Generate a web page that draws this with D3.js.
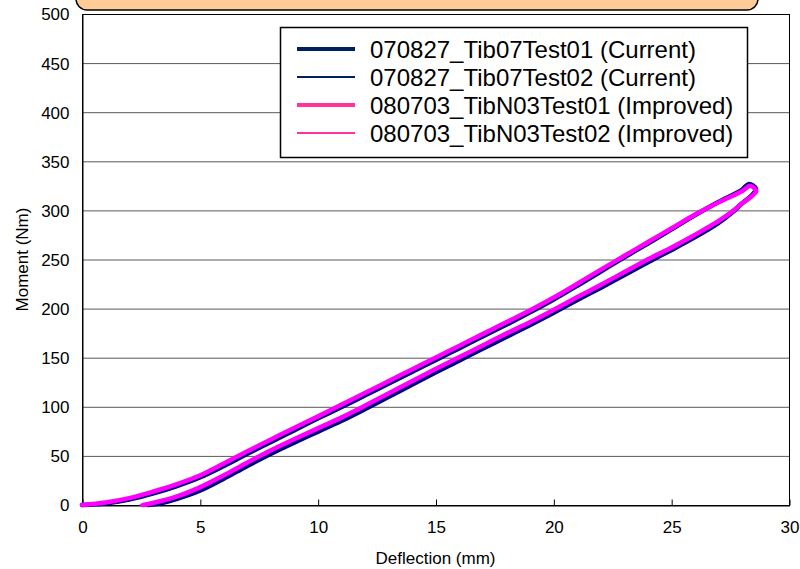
<!DOCTYPE html>
<html>
<head>
<meta charset="utf-8">
<script src="https://cdn.jsdelivr.net/npm/d3@7/dist/d3.min.js"></script>
<style>
  body { margin: 0; background: #fff; }
  svg { display: block; font-family: "Liberation Sans", Arial, sans-serif; }
  .chart__axis text { font-size: 17px; fill: #000; }
  .chart__axis path, .chart__axis line { stroke: #000; }
  .chart__grid line { stroke: #595959; }
  .chart__label { font-size: 17px; fill: #000; }
  .legend text { font-size: 24px; fill: #000; }
</style>
</head>
<body>
<div id="chart"></div>
<script>
// series names and styles
const seriesNames = [
  '070827_Tib07Test01 (Current)',
  '070827_Tib07Test02 (Current)',
  '080703_TibN03Test01 (Improved)',
  '080703_TibN03Test02 (Improved)',
];
const lineColors = ['#000080', '#000080', '#ff00ff', '#ff00ff'];
const legendColors = ['#002060', '#002060', '#ff3399', '#ff3399'];
const lineWidths = [4.5, 2.5, 4.5, 2.5];

// [deflection (mm), moment (Nm)] - loading then unloading
const tib07Test01 = [
  [0, 0], [1, 1.5], [2, 5.5], [3, 11.5], [4, 19], [5, 28], [6, 39.5], [7, 52], [8, 64], [9, 76],
  [10, 88], [11, 99.5], [12, 111.5], [13, 123.5], [14, 135.5], [15, 147.5], [16, 159.5],
  [17, 171.5], [18, 183.5], [19, 196], [20, 209], [21, 223], [22, 237.5], [23, 252], [24, 266],
  [25, 280.5], [26, 295], [27, 308.5], [28, 321], [28.3, 327], [28.6, 322],
  [28.4, 315], [28, 307], [27.6, 298], [27, 287], [26, 272.5], [25, 259.5], [24, 247], [23, 234],
  [22, 221], [21, 208.5], [20, 195.5], [19, 183], [18, 171], [17, 159], [16, 147], [15, 135],
  [14, 122.5], [13, 110], [12, 97.5], [11, 85.5], [10, 74.5], [9, 63.5], [8, 52], [7, 39.5],
  [6, 26.5], [5, 14.5], [4, 6], [3.3, 1.5], [2.8, 0],
];
const tib07Test02 = [
  [0, 0], [1, 1.5], [2, 6], [3, 12], [4, 19.5], [5, 28.5], [6, 40], [7, 52.5], [8, 64.5], [9, 76.5],
  [10, 88.5], [11, 100], [12, 112], [13, 124], [14, 136], [15, 148], [16, 160], [17, 172],
  [18, 184], [19, 196.5], [20, 209.5], [21, 223.5], [22, 238], [23, 252], [24, 266], [25, 280],
  [26, 294.5], [27, 308], [28, 320], [28.35, 326], [28.6, 321],
  [28.4, 314], [28, 306.5], [27.6, 298], [27, 287.5], [26, 273], [25, 260], [24, 247.5],
  [23, 234.5], [22, 221.5], [21, 209], [20, 196], [19, 183.5], [18, 172], [17, 160], [16, 148],
  [15, 136], [14, 123.5], [13, 111], [12, 98.5], [11, 86.5], [10, 75.5], [9, 64.5], [8, 53],
  [7, 40.5], [6, 27.5], [5, 15.5], [4, 6.5], [3.2, 1.5], [2.7, 0],
];
const tibN03Test01 = [
  [0, 0], [1, 2.5], [2, 7], [3, 13.5], [4, 21], [5, 30], [6, 42], [7, 54.5], [8, 66.5], [9, 78.5],
  [10, 90], [11, 102], [12, 114], [13, 126], [14, 138], [15, 150], [16, 162], [17, 174],
  [18, 186], [19, 198], [20, 211], [21, 225], [22, 239.5], [23, 253.5], [24, 267.5], [25, 281.5],
  [26, 295.5], [27, 308], [28, 319.5], [28.35, 325], [28.6, 320],
  [28.4, 314], [28, 307], [27.6, 299], [27, 289], [26, 275], [25, 262], [24, 250], [23, 237],
  [22, 224], [21, 211.5], [20, 198.5], [19, 186], [18, 174.5], [17, 162.5], [16, 150.5],
  [15, 138.5], [14, 126], [13, 113.5], [12, 101], [11, 89], [10, 78], [9, 67], [8, 55.5],
  [7, 43], [6, 30], [5, 18], [4, 8.5], [3, 2], [2.6, 0],
];
const tibN03Test02 = [
  [0, 0], [1, 2], [2, 6.5], [3, 13], [4, 21], [5, 30.5], [6, 42.5], [7, 54.5], [8, 66.5], [9, 78.5],
  [10, 90.5], [11, 102.5], [12, 114.5], [13, 126.5], [14, 138.5], [15, 150.5], [16, 162.5],
  [17, 174.5], [18, 186.5], [19, 198.5], [20, 211.5], [21, 225], [22, 239], [23, 253], [24, 267],
  [25, 281], [26, 295], [27, 307.5], [28, 319], [28.4, 324.5], [28.65, 319],
  [28.3, 313], [27.9, 306], [27.5, 298], [27, 289.5], [26, 275.5], [25, 262.5], [24, 250.5],
  [23, 237.5], [22, 224.5], [21, 212], [20, 199], [19, 186.5], [18, 175], [17, 163], [16, 151],
  [15, 139], [14, 126.5], [13, 114], [12, 101.5], [11, 89.5], [10, 78.5], [9, 67.5], [8, 56],
  [7, 43.5], [6, 30.5], [5, 18.5], [4, 9], [3, 2.5], [2.5, 0],
];
const series = [tib07Test01, tib07Test02, tibN03Test01, tibN03Test02];

// axis ticks
const xTicks = [0, 5, 10, 15, 20, 25, 30];
const yTicks = [0, 50, 100, 150, 200, 250, 300, 350, 400, 450, 500];

function visualize() {
  const canvasWidth = 800;
  const canvasHeight = 569;
  const margins = {
    top: 14,
    right: 11,
    bottom: 64,
    left: 82,
  };
  const width = canvasWidth - margins.left - margins.right;
  const height = canvasHeight - margins.top - margins.bottom;

  const svg = d3.select('#chart')
    .append('svg')
    .attr('width', canvasWidth)
    .attr('height', canvasHeight)
    .attr('viewBox', `0 0 ${canvasWidth} ${canvasHeight}`);

  // title box, cut off at the top
  svg.append('rect')
    .attr('x', 76)
    .attr('y', -22)
    .attr('width', 682)
    .attr('height', 32)
    .attr('rx', 11)
    .attr('fill', '#ffcc99')
    .attr('stroke', '#000')
    .attr('stroke-width', 1.5);

  const scaleX = d3.scaleLinear()
    .domain([0, 30])
    .range([0, width]);
  const scaleY = d3.scaleLinear()
    .domain([0, 500])
    .range([height, 0]);

  const chart = svg.append('g')
    .attr('transform', `translate(${margins.left}, ${margins.top})`);

  // horizontal grid lines
  chart.append('g')
    .attr('class', 'chart__grid')
    .selectAll('line')
    .data(yTicks.slice(1))
    .enter()
    .append('line')
      .attr('x1', 0)
      .attr('x2', width)
      .attr('y1', d => scaleY(d) + 0.5)
      .attr('y2', d => scaleY(d) + 0.5);

  // plot border
  chart.append('rect')
    .attr('x', 0.5)
    .attr('y', 0.5)
    .attr('width', width)
    .attr('height', height)
    .attr('fill', 'none')
    .attr('stroke', '#000')
    .attr('stroke-width', 1);

  // x axis
  chart.append('g')
    .attr('class', 'chart__axis chart__axis--x')
    .attr('transform', `translate(0.5, ${height + 0.5})`)
    .call(d3.axisBottom(scaleX).tickValues(xTicks).tickSizeInner(-6).tickSizeOuter(0).tickPadding(15))
    .call(g => g.selectAll('.tick text').attr('dy', '0.71em'));

  // y axis
  chart.append('g')
    .attr('class', 'chart__axis chart__axis--y')
    .attr('transform', 'translate(0.5, 0.5)')
    .call(d3.axisLeft(scaleY).tickValues(yTicks).tickSizeInner(0).tickSizeOuter(0).tickPadding(13));

  chart.append('text')
    .attr('class', 'chart__label')
    .attr('x', width / 2)
    .attr('y', height + 59)
    .attr('text-anchor', 'middle')
    .text('Deflection (mm)');

  chart.append('text')
    .attr('class', 'chart__label')
    .attr('transform', `translate(${-54}, ${height / 2}) rotate(-90)`)
    .attr('text-anchor', 'middle')
    .text('Moment (Nm)');

  // the curves
  const line = d3.line()
    .x(d => scaleX(d[0]))
    .y(d => scaleY(d[1]))
    .curve(d3.curveCatmullRom.alpha(0.5));

  chart.append('g')
    .attr('class', 'chart__lines')
    .selectAll('path')
    .data(series)
    .enter()
    .append('path')
      .attr('d', line)
      .attr('fill', 'none')
      .attr('stroke', (d, i) => lineColors[i])
      .attr('stroke-width', (d, i) => lineWidths[i])
      .attr('stroke-linejoin', 'round')
      .attr('stroke-linecap', 'round');

  // legend
  const legend = svg.append('g')
    .attr('class', 'legend')
    .attr('transform', 'translate(280, 27)');

  legend.append('rect')
    .attr('x', 0.5)
    .attr('y', 0.5)
    .attr('width', 467)
    .attr('height', 130)
    .attr('fill', '#fff')
    .attr('stroke', '#000')
    .attr('stroke-width', 1.5);

  const rows = legend.selectAll('.legend__row')
    .data(seriesNames)
    .enter()
    .append('g')
      .attr('class', 'legend__row')
      .attr('transform', (d, i) => `translate(0, ${22 + i * 28})`);

  rows.append('line')
    .attr('x1', 17)
    .attr('x2', 75)
    .attr('stroke', (d, i) => legendColors[i])
    .attr('stroke-width', (d, i) => (i % 2 === 0 ? 4 : 2));

  rows.append('text')
    .attr('x', 90)
    .attr('dy', '0.36em')
    .text(d => d);
}

visualize();
</script>
</body>
</html>
